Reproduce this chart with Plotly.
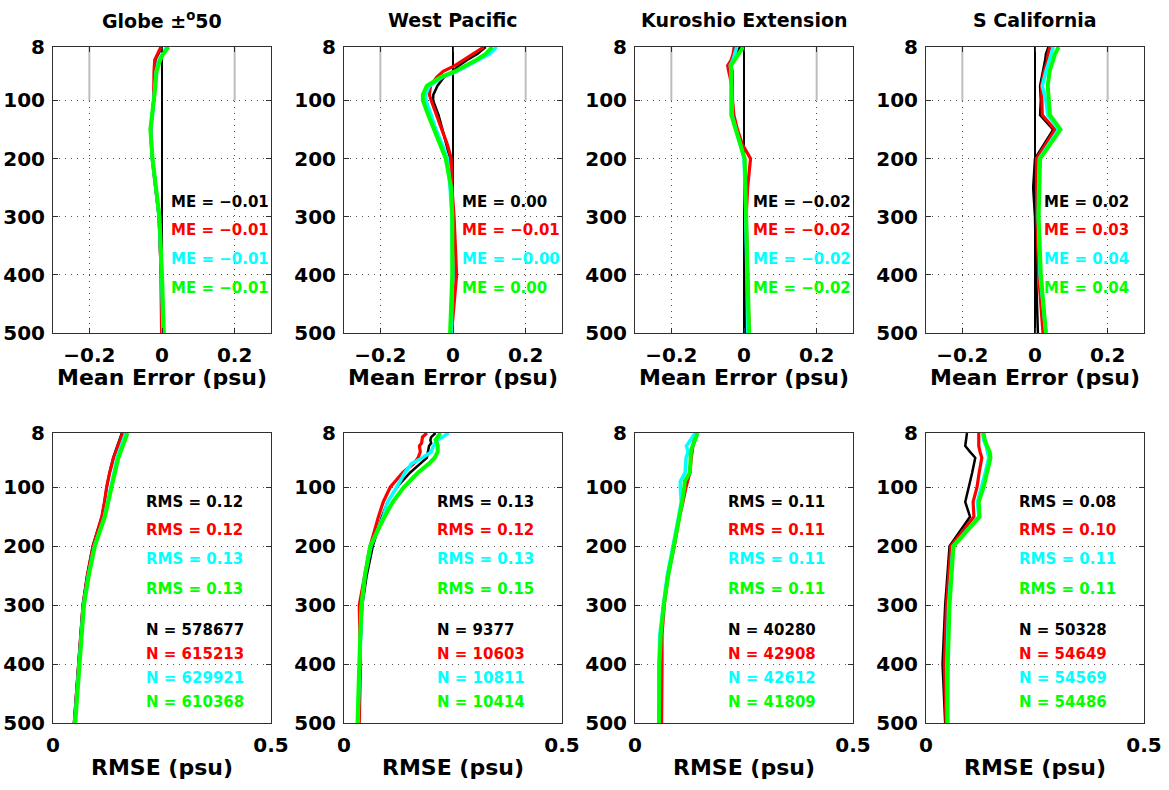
import plotly.graph_objects as go

FIG_W, FIG_H = 1169, 790
FONT = "DejaVu Sans"

# Panel titles, one per region
REGIONS = ["Globe ±<sup>o</sup>50", "West Pacific", "Kuroshio Extension", "S California"]

# Four runs: black, red, cyan, green
RUN_COLORS = ["#000000", "#ff0000", "#00ffff", "#00ff00"]
RUN_WIDTHS = [2.5, 3.2, 3.5, 4.0]

DEPTH_TICKS = [8, 100, 200, 300, 400, 500]
ME_TICKS = [-0.2, 0, 0.2]
ME_TICKTEXT = ["−0.2", "0", "0.2"]
RMSE_TICKS = [0, 0.5]
GRAY_SEGMENT_BOTTOM = 100

# ---------------- Mean error profiles (psu) ----------------
glb_me_depth = [8, 20, 30, 50, 75, 100, 125, 150, 200, 250, 300, 400, 500]
glb_me_blk = [0.000, -0.010, -0.018, -0.020, -0.021, -0.023, -0.027, -0.030, -0.027, -0.018, -0.009, -0.003, -0.002]
glb_me_red = [-0.003, -0.013, -0.020, -0.022, -0.022, -0.023, -0.027, -0.031, -0.027, -0.018, -0.008, -0.002, -0.001]
glb_me_cyn = [0.013, 0.000, -0.008, -0.016, -0.019, -0.022, -0.026, -0.031, -0.027, -0.017, -0.008, -0.001, 0.003]
glb_me_grn = [0.018, 0.003, -0.005, -0.015, -0.018, -0.022, -0.027, -0.032, -0.026, -0.016, -0.007, 0.000, 0.005]

wpac_me_depth = [8, 20, 30, 40, 50, 60, 75, 90, 100, 125, 150, 175, 200, 250, 300, 400, 500]
wpac_me_blk = [0.090, 0.067, 0.040, 0.016, 0.000, -0.025, -0.043, -0.054, -0.055, -0.040, -0.029, -0.018, -0.008, -0.008, -0.002, 0.001, -0.006]
wpac_me_red = [0.085, 0.055, 0.028, 0.005, -0.027, -0.045, -0.062, -0.065, -0.060, -0.045, -0.030, -0.016, -0.005, -0.003, 0.003, 0.010, -0.004]
wpac_me_cyn = [0.120, 0.100, 0.070, 0.040, 0.010, -0.030, -0.065, -0.075, -0.074, -0.060, -0.047, -0.030, -0.015, -0.008, -0.003, -0.001, -0.005]
wpac_me_grn = [0.108, 0.090, 0.065, 0.035, 0.005, -0.035, -0.072, -0.083, -0.083, -0.068, -0.052, -0.036, -0.020, -0.005, -0.002, -0.002, -0.008]

kuro_me_depth = [8, 20, 30, 40, 50, 75, 100, 125, 150, 175, 200, 250, 300, 400, 500]
kuro_me_blk = [-0.011, -0.020, -0.028, -0.035, -0.032, -0.032, -0.032, -0.030, -0.020, -0.010, 0.000, 0.002, 0.004, 0.004, 0.005]
kuro_me_red = [-0.027, -0.030, -0.035, -0.045, -0.042, -0.033, -0.032, -0.028, -0.018, -0.005, 0.018, 0.010, 0.006, 0.009, 0.014]
kuro_me_cyn = [-0.020, -0.025, -0.030, -0.038, -0.035, -0.034, -0.034, -0.033, -0.022, -0.010, 0.000, 0.003, 0.005, 0.008, 0.010]
kuro_me_grn = [-0.002, -0.015, -0.025, -0.036, -0.035, -0.036, -0.035, -0.035, -0.022, -0.010, 0.002, 0.004, 0.006, 0.010, 0.014]

scal_me_depth = [8, 20, 30, 50, 75, 100, 125, 150, 200, 250, 300, 400, 500]
scal_me_blk = [0.037, 0.030, 0.028, 0.022, 0.014, 0.016, 0.014, 0.050, 0.000, -0.005, 0.000, 0.003, 0.008]
scal_me_red = [0.041, 0.036, 0.035, 0.025, 0.018, 0.020, 0.020, 0.055, 0.004, 0.004, 0.005, 0.010, 0.022]
scal_me_cyn = [0.050, 0.045, 0.040, 0.030, 0.020, 0.030, 0.035, 0.065, 0.012, 0.010, 0.009, 0.014, 0.030]
scal_me_grn = [0.065, 0.055, 0.050, 0.040, 0.035, 0.037, 0.041, 0.070, 0.014, 0.012, 0.010, 0.016, 0.030]

# ---------------- RMSE profiles (psu) ----------------
glb_rms_depth = [8, 30, 50, 75, 100, 125, 150, 200, 250, 300, 400, 500]
glb_rms_blk = [0.158, 0.148, 0.138, 0.130, 0.123, 0.118, 0.112, 0.091, 0.078, 0.068, 0.058, 0.048]
glb_rms_red = [0.160, 0.149, 0.139, 0.130, 0.123, 0.118, 0.112, 0.092, 0.079, 0.069, 0.059, 0.049]
glb_rms_cyn = [0.167, 0.156, 0.147, 0.140, 0.132, 0.125, 0.118, 0.095, 0.081, 0.070, 0.060, 0.050]
glb_rms_grn = [0.171, 0.160, 0.150, 0.142, 0.135, 0.127, 0.119, 0.096, 0.082, 0.071, 0.061, 0.051]

wpac_rms_depth = [8, 15, 20, 25, 30, 40, 50, 60, 75, 100, 125, 150, 200, 250, 300, 400, 500]
wpac_rms_blk = [0.210, 0.200, 0.198, 0.200, 0.195, 0.192, 0.190, 0.175, 0.152, 0.121, 0.100, 0.087, 0.066, 0.052, 0.042, 0.036, 0.032]
wpac_rms_red = [0.190, 0.180, 0.179, 0.178, 0.173, 0.175, 0.170, 0.160, 0.135, 0.106, 0.090, 0.079, 0.060, 0.047, 0.035, 0.038, 0.035]
wpac_rms_cyn = [0.240, 0.225, 0.215, 0.210, 0.205, 0.200, 0.180, 0.155, 0.140, 0.121, 0.100, 0.090, 0.062, 0.048, 0.041, 0.036, 0.032]
wpac_rms_grn = [0.221, 0.215, 0.210, 0.213, 0.215, 0.215, 0.208, 0.195, 0.170, 0.137, 0.112, 0.093, 0.060, 0.048, 0.040, 0.035, 0.031]

kuro_rms_depth = [8, 20, 30, 40, 50, 75, 90, 100, 125, 150, 200, 250, 300, 350, 400, 500]
kuro_rms_blk = [0.139, 0.135, 0.132, 0.130, 0.128, 0.125, 0.118, 0.116, 0.108, 0.101, 0.088, 0.074, 0.065, 0.058, 0.055, 0.055]
kuro_rms_red = [0.141, 0.136, 0.133, 0.131, 0.129, 0.126, 0.120, 0.117, 0.110, 0.102, 0.090, 0.076, 0.067, 0.062, 0.062, 0.061]
kuro_rms_cyn = [0.138, 0.128, 0.118, 0.122, 0.117, 0.115, 0.104, 0.104, 0.106, 0.100, 0.088, 0.074, 0.065, 0.057, 0.055, 0.055]
kuro_rms_grn = [0.144, 0.137, 0.132, 0.128, 0.127, 0.126, 0.114, 0.113, 0.108, 0.101, 0.089, 0.076, 0.066, 0.059, 0.056, 0.055]

scal_rms_depth = [8, 20, 30, 40, 50, 75, 100, 125, 150, 200, 300, 400, 500]
scal_rms_blk = [0.094, 0.092, 0.090, 0.101, 0.113, 0.106, 0.098, 0.090, 0.101, 0.054, 0.044, 0.038, 0.044]
scal_rms_red = [0.121, 0.121, 0.121, 0.124, 0.128, 0.122, 0.117, 0.108, 0.110, 0.057, 0.047, 0.042, 0.046]
scal_rms_cyn = [0.130, 0.132, 0.138, 0.142, 0.144, 0.136, 0.128, 0.118, 0.121, 0.062, 0.052, 0.048, 0.050]
scal_rms_grn = [0.132, 0.135, 0.140, 0.146, 0.148, 0.140, 0.132, 0.121, 0.123, 0.063, 0.054, 0.050, 0.049]

# ---------------- Summary statistics per region ----------------
glb_me_stats = [-0.01, -0.01, -0.01, -0.01]
wpac_me_stats = [0.00, -0.01, -0.0, 0.00]
kuro_me_stats = [-0.02, -0.02, -0.02, -0.02]
scal_me_stats = [0.02, 0.03, 0.04, 0.04]

glb_rms_stats = [0.12, 0.12, 0.13, 0.13]
wpac_rms_stats = [0.13, 0.12, 0.13, 0.15]
kuro_rms_stats = [0.11, 0.11, 0.11, 0.11]
scal_rms_stats = [0.08, 0.10, 0.11, 0.11]

glb_counts = [578677, 615213, 629921, 610368]
wpac_counts = [9377, 10603, 10811, 10414]
kuro_counts = [40280, 42908, 42612, 41809]
scal_counts = [50328, 54649, 54569, 54486]

# Depths at which the stacked statistic labels sit
ME_LABEL_DEPTHS = [275, 323, 373, 423]
RMS_LABEL_DEPTHS = [125, 173, 222, 273]
N_LABEL_DEPTHS = [342, 383, 424, 464]
ME_LABEL_X = 0.020
RMS_LABEL_X = 0.208

me_panels = [
    (glb_me_depth, [glb_me_blk, glb_me_red, glb_me_cyn, glb_me_grn], glb_me_stats),
    (wpac_me_depth, [wpac_me_blk, wpac_me_red, wpac_me_cyn, wpac_me_grn], wpac_me_stats),
    (kuro_me_depth, [kuro_me_blk, kuro_me_red, kuro_me_cyn, kuro_me_grn], kuro_me_stats),
    (scal_me_depth, [scal_me_blk, scal_me_red, scal_me_cyn, scal_me_grn], scal_me_stats),
]
rms_panels = [
    (glb_rms_depth, [glb_rms_blk, glb_rms_red, glb_rms_cyn, glb_rms_grn], glb_rms_stats, glb_counts),
    (wpac_rms_depth, [wpac_rms_blk, wpac_rms_red, wpac_rms_cyn, wpac_rms_grn], wpac_rms_stats, wpac_counts),
    (kuro_rms_depth, [kuro_rms_blk, kuro_rms_red, kuro_rms_cyn, kuro_rms_grn], kuro_rms_stats, kuro_counts),
    (scal_rms_depth, [scal_rms_blk, scal_rms_red, scal_rms_cyn, scal_rms_grn], scal_rms_stats, scal_counts),
]

# ---------------- Layout geometry (pixels) ----------------
COL_LEFT = [53, 344, 635, 926]
COL_WIDTH = 218
TOP_ROW = (47, 333)
BOT_ROW = (433, 723)


def px_x(p):
    return p / FIG_W


def px_y(p):
    return 1 - p / FIG_H


def fmt(v):
    return f"{v:.2f}".replace("-", "−")


fig = go.Figure()
layout = {}
annotations = []
shapes = []

axis_common = dict(
    showline=True, linecolor="#303030", linewidth=1, mirror="ticks",
    ticks="inside", ticklen=5, tickcolor="#303030",
    tickfont=dict(family=FONT, size=20, color="black", weight="bold"),
    gridcolor="#505050", gridwidth=1, griddash="1px,5px",
    zeroline=False, fixedrange=True, automargin=False,
)

stat_font = 15

for col in range(4):
    x_dom = [px_x(COL_LEFT[col]), px_x(COL_LEFT[col] + COL_WIDTH)]
    i_top = col + 1
    i_bot = col + 5
    xa_t, ya_t = f"x{i_top}", f"y{i_top}"
    xa_b, ya_b = f"x{i_bot}", f"y{i_bot}"

    # ---- top row: mean error ----
    depth, runs, stats = me_panels[col]
    for k, vals in enumerate(runs):
        fig.add_trace(go.Scatter(
            x=vals, y=depth, mode="lines", xaxis=xa_t, yaxis=ya_t,
            line=dict(color=RUN_COLORS[k], width=RUN_WIDTHS[k]),
            showlegend=False, hoverinfo="skip"))
        annotations.append(dict(
            x=ME_LABEL_X, y=ME_LABEL_DEPTHS[k], xref=xa_t, yref=ya_t,
            text=f"ME = {fmt(stats[k])}", showarrow=False,
            xanchor="left", yanchor="middle",
            font=dict(family=FONT, size=stat_font, color=RUN_COLORS[k], weight="bold")))

    layout[f"xaxis{i_top}"] = dict(
        axis_common, domain=x_dom, anchor=ya_t, range=[-0.3, 0.3],
        tickvals=ME_TICKS, ticktext=ME_TICKTEXT, showgrid=True,
        zeroline=True, zerolinecolor="black", zerolinewidth=2,
        ticklabelstandoff=4)
    layout[f"yaxis{i_top}"] = dict(
        axis_common, domain=[px_y(TOP_ROW[1]), px_y(TOP_ROW[0])], anchor=xa_t,
        range=[500, 8], tickvals=DEPTH_TICKS, showgrid=True,
        ticklabelstandoff=3)

    # light solid guides at +/-0.2 through the upper layer
    for xv in (ME_TICKS[0], ME_TICKS[-1]):
        shapes.append(dict(
            type="line", xref=xa_t, yref=ya_t, x0=xv, x1=xv,
            y0=DEPTH_TICKS[0], y1=GRAY_SEGMENT_BOTTOM,
            line=dict(color="#bdbdbd", width=2), layer="between"))

    annotations.append(dict(
        x=(x_dom[0] + x_dom[1]) / 2, y=px_y(20), xref="paper", yref="paper",
        text=REGIONS[col], showarrow=False, xanchor="center", yanchor="middle",
        font=dict(family=FONT, size=19, color="black", weight="bold")))
    annotations.append(dict(
        x=(x_dom[0] + x_dom[1]) / 2, y=px_y(377), xref="paper", yref="paper",
        text="Mean Error (psu)", showarrow=False, xanchor="center", yanchor="middle",
        font=dict(family=FONT, size=22, color="black", weight="bold")))

    # ---- bottom row: RMSE ----
    depth, runs, stats, counts = rms_panels[col]
    for k, vals in enumerate(runs):
        fig.add_trace(go.Scatter(
            x=vals, y=depth, mode="lines", xaxis=xa_b, yaxis=ya_b,
            line=dict(color=RUN_COLORS[k], width=RUN_WIDTHS[k]),
            showlegend=False, hoverinfo="skip"))
        annotations.append(dict(
            x=RMS_LABEL_X, y=RMS_LABEL_DEPTHS[k], xref=xa_b, yref=ya_b,
            text=f"RMS = {fmt(stats[k])}", showarrow=False,
            xanchor="left", yanchor="middle",
            font=dict(family=FONT, size=stat_font, color=RUN_COLORS[k], weight="bold")))
        annotations.append(dict(
            x=RMS_LABEL_X, y=N_LABEL_DEPTHS[k], xref=xa_b, yref=ya_b,
            text=f"N = {counts[k]}", showarrow=False,
            xanchor="left", yanchor="middle",
            font=dict(family=FONT, size=stat_font, color=RUN_COLORS[k], weight="bold")))

    layout[f"xaxis{i_bot}"] = dict(
        axis_common, domain=x_dom, anchor=ya_b, range=[0, 0.5],
        tickvals=RMSE_TICKS, ticktext=["0", "0.5"], showgrid=False,
        ticklabelstandoff=4)
    layout[f"yaxis{i_bot}"] = dict(
        axis_common, domain=[px_y(BOT_ROW[1]), px_y(BOT_ROW[0])], anchor=xa_b,
        range=[500, 8], tickvals=DEPTH_TICKS, showgrid=True,
        ticklabelstandoff=3)

    annotations.append(dict(
        x=(x_dom[0] + x_dom[1]) / 2, y=px_y(767), xref="paper", yref="paper",
        text="RMSE (psu)", showarrow=False, xanchor="center", yanchor="middle",
        font=dict(family=FONT, size=22, color="black", weight="bold")))

fig.update_layout(
    template="none",
    width=FIG_W, height=FIG_H, autosize=False,
    margin=dict(l=0, r=0, t=0, b=0, pad=0),
    paper_bgcolor="white", plot_bgcolor="white",
    font=dict(family=FONT, color="black"),
    annotations=annotations, shapes=shapes,
    showlegend=False,
    **layout,
)

fig.write_html("out.html", config={"displayModeBar": False})
